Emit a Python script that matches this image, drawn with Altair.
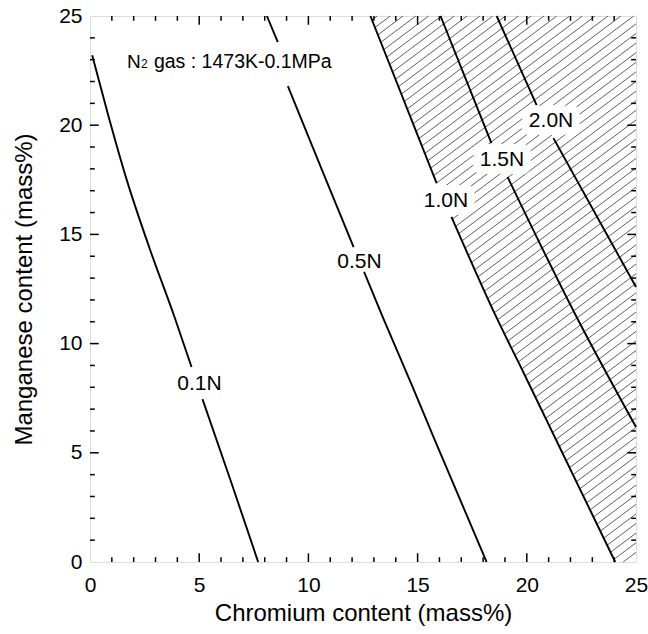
import altair as alt
import pandas as pd
import numpy as np

# ---- contour lines (Cr %, Mn %), split where labels interrupt them ----
n01_a_x = [0.10, 0.85, 1.65, 2.75, 3.87, 4.65]
n01_a_y = [23.20, 20.40, 17.60, 14.30, 11.22, 8.93]
n01_b_x = [5.15, 6.45, 7.70]
n01_b_y = [7.46, 3.70, 0.00]

n05_a_x = [8.10, 8.60]
n05_a_y = [25.00, 23.80]
n05_b_x = [9.06, 10.62, 12.07]
n05_b_y = [21.79, 17.95, 14.42]
n05_c_x = [12.55, 13.40, 14.78, 15.73, 18.16]
n05_c_y = [13.28, 11.22, 8.00, 5.72, 0.00]

n10_a_x = [12.84, 15.87]
n10_a_y = [25.00, 17.35]
n10_b_x = [16.55, 18.60, 19.88, 24.05]
n10_b_y = [15.80, 11.22, 8.61, 0.00]

n15_a_x = [16.05, 18.38]
n15_a_y = [25.00, 19.18]
n15_b_x = [19.12, 22.28, 25.00]
n15_b_y = [17.63, 11.22, 6.18]

n20_a_x = [18.62, 20.45]
n20_a_y = [25.00, 20.92]
n20_b_x = [21.22, 25.00]
n20_b_y = [19.41, 12.59]

# ---- labels ----
label_text = ["0.1N", "0.5N", "1.0N", "1.5N", "2.0N"]
label_x = [5.01, 12.34, 16.30, 18.86, 21.11]
label_y = [8.13, 13.74, 16.51, 18.41, 20.17]

annot_x = [1.69]
annot_y = [22.95]

tick_values = list(range(1, 25))

# ---- build tables ----
segments = [
    ("n01a", n01_a_x, n01_a_y), ("n01b", n01_b_x, n01_b_y),
    ("n05a", n05_a_x, n05_a_y), ("n05b", n05_b_x, n05_b_y), ("n05c", n05_c_x, n05_c_y),
    ("n10a", n10_a_x, n10_a_y), ("n10b", n10_b_x, n10_b_y),
    ("n15a", n15_a_x, n15_a_y), ("n15b", n15_b_x, n15_b_y),
    ("n20a", n20_a_x, n20_a_y), ("n20b", n20_b_x, n20_b_y),
]
rows = []
for sid, xs, ys in segments:
    for i, (a, b) in enumerate(zip(xs, ys)):
        rows.append({"seg": sid, "i": i, "x": a, "y": b})
lines_df = pd.DataFrame(rows)

# hatch pattern to the right of the 1.0N line
bx = np.array(n10_a_x + n10_b_x)
by = np.array(n10_a_y + n10_b_y)
order = np.argsort(by)
bx, by = bx[order], by[order]
m = 0.75
step = 0.44
grid = np.linspace(0, 25, 5001)
hrows = []
c = -m * 25
while c < 25:
    yy = m * grid + c
    inside = (yy >= 0) & (yy <= 25) & (grid >= np.interp(yy, by, bx))
    if inside.sum() > 2:
        x0 = float(grid[inside].min())
        x1 = float(grid[inside].max())
        hrows.append({"x": x0, "y": m * x0 + c, "x2": x1, "y2": m * x1 + c})
    c += step
hatch_df = pd.DataFrame(hrows)

trows = []
for v in tick_values:
    L = 0.40 if v % 5 == 0 else 0.22
    trows.append({"x": v, "x2": v, "y": 0, "y2": L})
    trows.append({"x": v, "x2": v, "y": 25 - L, "y2": 25})
    trows.append({"x": 0, "x2": L, "y": v, "y2": v})
    trows.append({"x": 25 - L, "x2": 25, "y": v, "y2": v})
ticks_df = pd.DataFrame(trows)

labels_df = pd.DataFrame({"x": label_x, "y": label_y, "t": label_text})
annot_df = pd.DataFrame({"x": annot_x, "y": annot_y})

FONT = "Liberation Sans"
sx = alt.Scale(domain=[0, 25], nice=False, zero=False)
sy = alt.Scale(domain=[0, 25], nice=False, zero=False)
ax_x = alt.Axis(values=[0, 5, 10, 15, 20, 25], title="Chromium content (mass%)",
                ticks=False, tickSize=0, domain=False, grid=False, labelFlush=False,
                labelFont=FONT, labelFontSize=21, labelColor="black", labelPadding=12,
                titleFont=FONT, titleFontSize=24, titleFontWeight="normal", titleColor="black",
                titleX=273, titleY=58, titleBaseline="alphabetic")
ax_y = alt.Axis(values=[0, 5, 10, 15, 20, 25], title="Manganese content (mass%)",
                ticks=False, tickSize=0, domain=False, grid=False, labelFlush=False,
                labelFont=FONT, labelFontSize=21, labelColor="black", labelPadding=8,
                titleFont=FONT, titleFontSize=24, titleFontWeight="normal", titleColor="black",
                titleX=-59, titleY=273, titleBaseline="alphabetic", titleAngle=270)


def X():
    return alt.X("x", type="quantitative", scale=sx, axis=ax_x)


def Y():
    return alt.Y("y", type="quantitative", scale=sy, axis=ax_y)


hatch = alt.Chart(hatch_df).mark_rule(color="#4d4d4d", strokeWidth=0.9).encode(
    x=X(), y=Y(), x2="x2", y2="y2")

ticks = alt.Chart(ticks_df).mark_rule(color="black", strokeWidth=1.5).encode(
    x=X(), y=Y(), x2="x2", y2="y2")

halo = alt.Chart(labels_df).mark_text(font=FONT, fontSize=21, color="white",
                                      stroke="white", strokeWidth=16, strokeJoin="round").encode(
    x=X(), y=Y(), text="t")

lines = alt.Chart(lines_df).mark_line(color="black", strokeWidth=1.9, interpolate="monotone").encode(
    x=X(), y=Y(), detail="seg", order="i")

labels = alt.Chart(labels_df).mark_text(font=FONT, fontSize=21, color="black").encode(
    x=X(), y=Y(), text="t")

a1 = alt.Chart(annot_df).mark_text(font=FONT, fontSize=19, color="black", align="left",
                                   baseline="alphabetic", dy=7, text="N").encode(x=X(), y=Y())
a2 = alt.Chart(annot_df).mark_text(font=FONT, fontSize=12, color="black", align="left",
                                   baseline="alphabetic", dx=14, dy=7, text="2").encode(x=X(), y=Y())
a3 = alt.Chart(annot_df).mark_text(font=FONT, fontSize=19.5, color="black", align="left",
                                   baseline="alphabetic", dx=27, dy=7,
                                   text="gas : 1473K-0.1MPa").encode(x=X(), y=Y())

chart = alt.layer(hatch, ticks, halo, lines, labels, a1, a2, a3).properties(
    width=546, height=546,
    autosize=alt.AutoSizeParams(type="none"),
    padding={"left": 90, "top": 16, "right": 12, "bottom": 72},
).configure_view(stroke="black", strokeWidth=2).configure(background="white")

chart.save("out.html", embed_options={"renderer": "svg", "actions": False})
